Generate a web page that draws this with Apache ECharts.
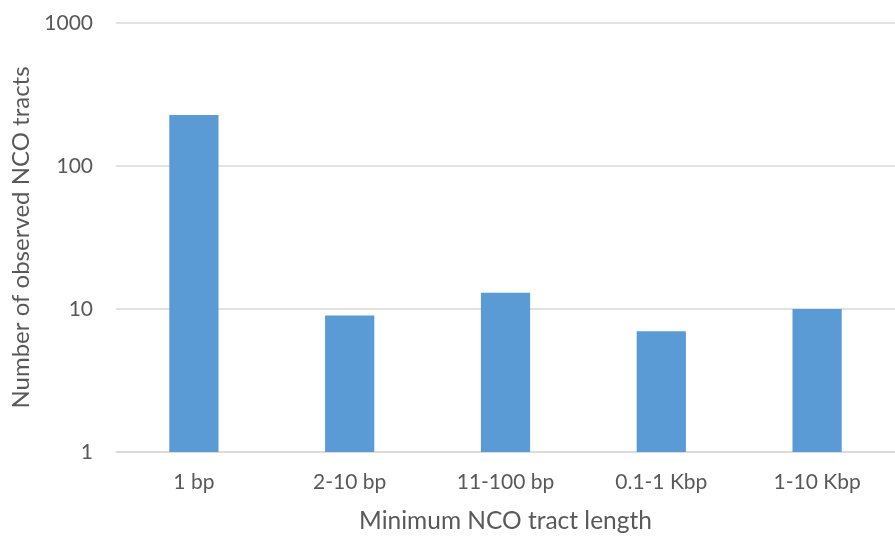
<!DOCTYPE html>
<html><head><meta charset="utf-8">
<script src="https://cdn.jsdelivr.net/npm/echarts@6/dist/echarts.min.js"></script>
<style>html,body{margin:0;padding:0;background:#fff}#c{width:895px;height:536px}</style>
</head><body><div id="c"></div>
<script>
const categories = ['1 bp', '2-10 bp', '11-100 bp', '0.1-1 Kbp', '1-10 Kbp'];
const values = [227, 9, 13, 7, 10];
const xTitle = 'Minimum NCO tract length';
const yTitle = 'Number of observed NCO tracts';

const font = 'Lato, "Open Sans", sans-serif';
const chart = echarts.init(document.getElementById('c'));
chart.setOption({
  animation: false,
  grid: { left: 116, right: 0, top: 23, bottom: 84, containLabel: false, outerBoundsMode: 'none' },
  xAxis: {
    type: 'category', data: categories,
    axisTick: { show: false },
    axisLine: { lineStyle: { color: '#d9d9d9', width: 1.5 } },
    axisLabel: { color: '#595959', fontSize: 21, fontFamily: font, margin: 20 },
    name: xTitle, nameLocation: 'middle', nameGap: 57,
    nameTextStyle: { color: '#595959', fontSize: 24.5, fontFamily: font }
  },
  yAxis: {
    type: 'log', logBase: 10, min: 1, max: 1000,
    axisLine: { show: false }, axisTick: { show: false },
    splitLine: { lineStyle: { color: '#d9d9d9', width: 1.5 } },
    axisLabel: { color: '#595959', fontSize: 21, fontFamily: font, margin: 23,
      formatter: v => String(Math.round(v)) },
    name: yTitle, nameLocation: 'middle', nameGap: 82, nameRotate: 90,
    nameTextStyle: { color: '#595959', fontSize: 24, fontFamily: font }
  },
  series: [{
    type: 'bar', data: values, barWidth: '31.6%',
    itemStyle: { color: '#5b9bd5' }
  }]
});
</script></body></html>
